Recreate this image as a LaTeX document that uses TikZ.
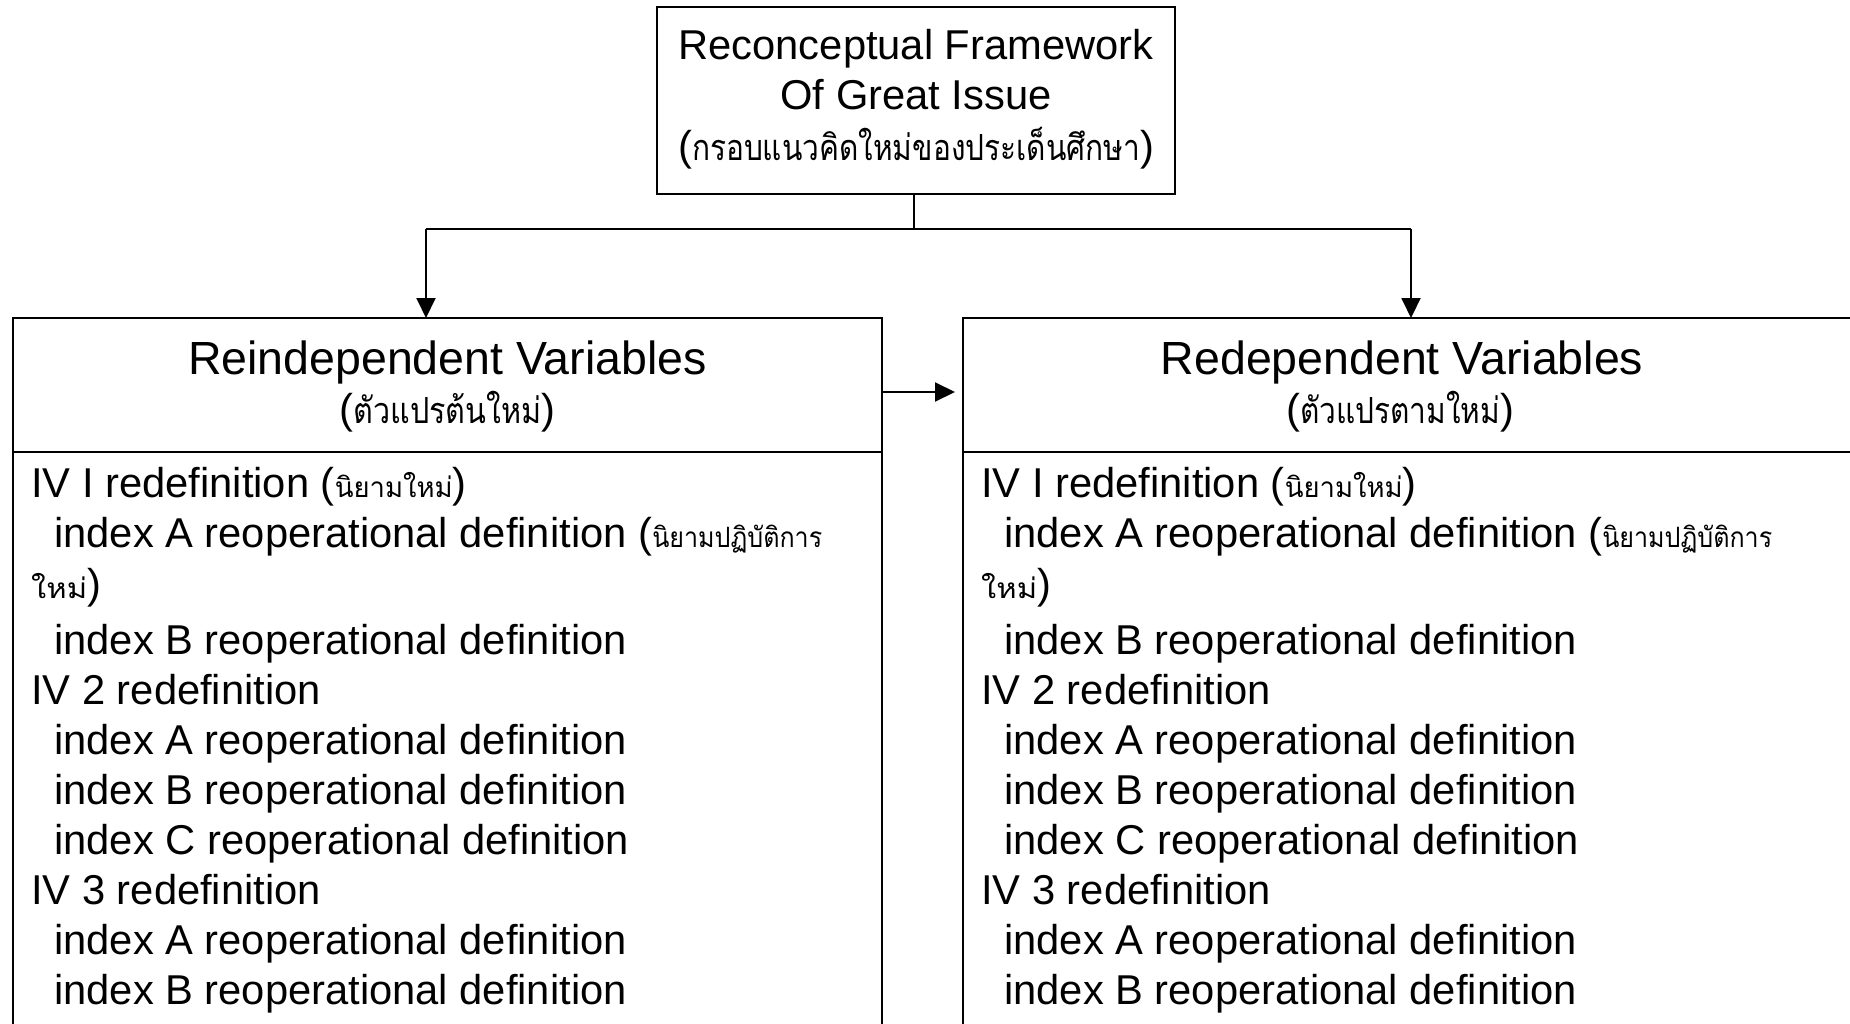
\documentclass[tikz,border=0pt]{standalone}
\usepackage{fontspec}
\setmainfont{Liberation Sans}
\newfontfamily\thaifont[Script=Thai]{Loma}
\usetikzlibrary{arrows.meta}
\newcommand\thw[3]{\resizebox{#2pt}{\height}{\fontsize{#1pt}{#1pt}\selectfont\thaifont #3}}
\newcommand\mybody[3]{%
  \node[txt] (#1a) at (#2,497) {IV I redefinition (\thw{28}{118}{นิยามใหม่})};
  \node[txt] (#1b) at (#3,547) {index A reoperational definition (\thw{28}{170}{นิยามปฏิบัติการ}};
  \node[txt] (#1c) at (#2,598) {\thw{28}{56}{ใหม่})};
  \node[txt] (#1d) at (#3,654) {index B reoperational definition};
  \node[txt] (#1e) at (#2,704) {IV 2 redefinition};
  \node[txt] (#1f) at (#3,754) {index A reoperational definition};
  \node[txt] (#1g) at (#3,804) {index B reoperational definition};
  \node[txt] (#1h) at (#3,854) {index C reoperational definition};
  \node[txt] (#1i) at (#2,904) {IV 3 redefinition};
  \node[txt] (#1j) at (#3,954) {index A reoperational definition};
  \node[txt] (#1k) at (#3,1004) {index B reoperational definition};
}
\begin{document}
\begin{tikzpicture}[x=1pt,y=-1pt,
  box/.style={draw, line width=2pt, inner sep=0pt, outer sep=0pt, anchor=north west},
  txt/.style={inner sep=0pt, anchor=base west, font=\fontsize{41.7pt}{50pt}\selectfont},
  hd/.style={inner sep=0pt, anchor=base, font=\fontsize{46.5pt}{50pt}\selectfont},
  ctr/.style={inner sep=0pt, anchor=base, font=\fontsize{41.7pt}{50pt}\selectfont},
  conn/.style={line width=2pt},
  arr/.style={line width=2pt, -{Triangle[length=20pt,width=19pt]}}]
\useasboundingbox (0,0) rectangle (1850,1023);
\clip (0,0) rectangle (1850,1023);
\fill[white] (0,0) rectangle (1850,1023);
% boxes
\node[box, minimum width=518pt, minimum height=187pt] (top) at (657,7) {};
\node[box, minimum width=869pt, minimum height=134pt] (lhead) at (13,318) {};
\node[box, minimum width=869pt, minimum height=620pt] (lbody) at (13,452) {};
\node[box, minimum width=917pt, minimum height=134pt] (rhead) at (963,318) {};
\node[box, minimum width=917pt, minimum height=620pt] (rbody) at (963,452) {};
% connectors
\coordinate (jc) at (914,229);
\coordinate (jl) at (426,229);
\coordinate (jr) at (1411,229);
\coordinate (mid) at (0,392);
\draw[conn] (top.south -| jc) -- (jc);
\draw[conn] (jl) -- (jr);
\draw[arr] (jl) -- (jl |- lhead.north);
\draw[arr] (jr) -- (jr |- rhead.north);
\draw[arr, shorten >=8pt] (lhead.east |- mid) -- (rhead.west |- mid);
% top text
\node[ctr] (t1) at (916,59) {Reconceptual Framework};
\node[ctr] (t2) at (916,109) {Of Great Issue};
\node[ctr] (t3) at (916,160) {(\thw{36}{448}{กรอบแนวคิดใหม่ของประเด็นศึกษา})};
% headers
\node[hd] (lh1) at (447.5,374) {Reindependent Variables};
\node[ctr] (lh2) at (447.5,423) {(\thw{36}{188}{ตัวแปรต้นใหม่})};
\node[hd] (rh1) at (1402,374) {Redependent Variables};
\node[ctr] (rh2) at (1400,423) {(\thw{36}{200}{ตัวแปรตามใหม่})};
% body
\mybody{l}{31}{54}
\mybody{r}{981}{1004}
\end{tikzpicture}
\end{document}
